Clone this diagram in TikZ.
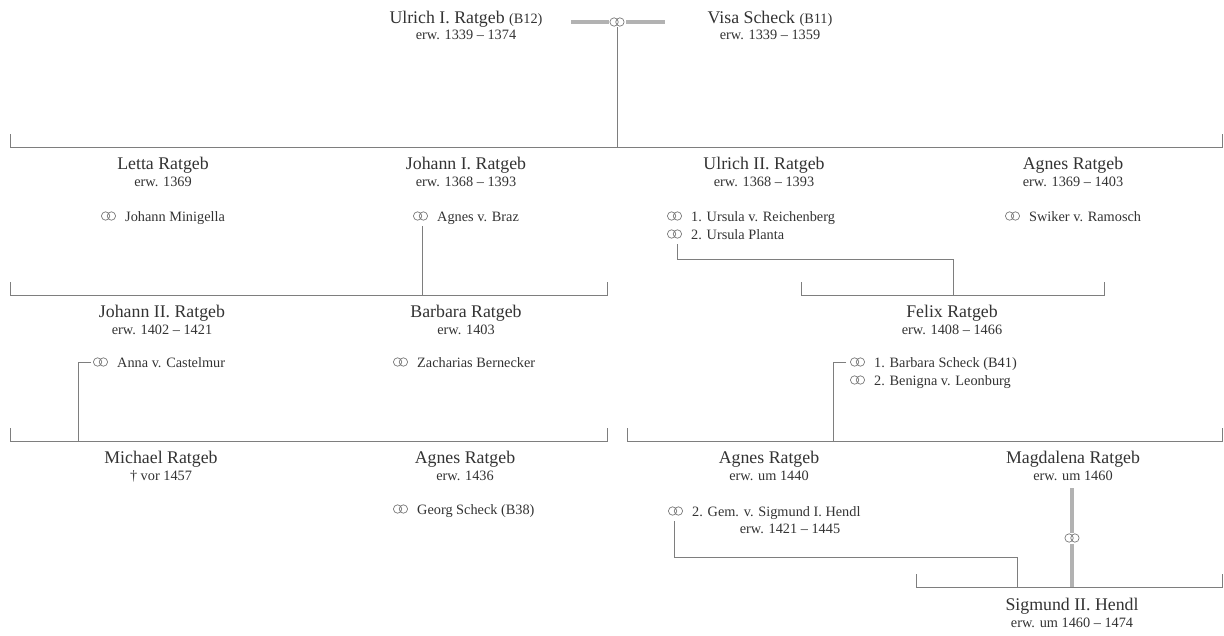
\documentclass[tikz,border=0pt]{standalone}
\usepackage{fontspec}
\setmainfont{Liberation Serif}
\definecolor{txtc}{HTML}{333333}
\definecolor{linec}{HTML}{7E7E7E}
\definecolor{thickc}{HTML}{B2B2B2}
\definecolor{symc}{HTML}{7A7A7A}
\newcommand\namefnt{\fontsize{17.8}{20}\selectfont}
\newcommand\smallfnt{\fontsize{14.3}{18}\selectfont}
\tikzset{
  nm/.style={font=\namefnt, text=txtc, inner sep=0, anchor=base},
  dt/.style={font=\smallfnt, text=txtc, inner sep=0, anchor=base},
  mr/.style={font=\smallfnt, text=txtc, inner sep=0, anchor=base west},
  conn/.style={draw=linec, line width=0.95pt},
  thick line/.style={draw=thickc, line width=3.6pt},
  rings/.pic={
    \draw[draw=symc, line width=0.7pt] (-2.9pt,0) circle[radius=4.2pt] (2.9pt,0) circle[radius=4.2pt];
  },
  ringsw/.pic={
    \fill[white] (-8.5pt,-5.5pt) rectangle (8.5pt,5.5pt);
    \draw[draw=symc, line width=0.7pt] (-2.9pt,0) circle[radius=4.2pt] (2.9pt,0) circle[radius=4.2pt];
  }
}
\begin{document}
\begin{tikzpicture}[x=1pt,y=-1pt]
\useasboundingbox[fill=white] (0,0) rectangle (1224,635);

% ---------- top couple ----------
\node[nm] (ulrich1) at (466,23) {Ulrich I. Ratgeb {\smallfnt (B12)}};
\node[dt] (ulrich1-d) at (466,39) {erw. 1339 – 1374};
\node[nm] (visa) at (770,23) {Visa Scheck {\smallfnt (B11)}};
\node[dt] (visa-d) at (770,39) {erw. 1339 – 1359};
\coordinate (m0L) at (571,22);
\coordinate (m0R) at (665,22);
\coordinate (m0) at (617,22);
\draw[thick line] (m0L) -- (m0R);
\pic (m0s) at (m0) {ringsw};
\coordinate (m0b) at (617,27);
\coordinate (r1top) at (617,147);
\draw[conn] (m0b) -- (r1top);

% row 1 bracket
\coordinate (r1a) at (10,147);
\coordinate (r1b) at (1222,147);
\draw[conn] ([yshift=13pt]r1a) -- (r1a) -- (r1b) -- ([yshift=13pt]r1b);

% ---------- row 1 ----------
\node[nm] (letta) at (163,169) {Letta Ratgeb};
\node[dt] (letta-d) at (163,186) {erw. 1369};
\pic (letta-r) at (108.5,216) {rings};
\node[mr] (letta-m) at (125,221) {Johann Minigella};

\node[nm] (johann1) at (466,169) {Johann I. Ratgeb};
\node[dt] (johann1-d) at (466,186) {erw. 1368 – 1393};
\pic (johann1-r) at (420.5,216) {rings};
\node[mr] (johann1-m) at (437,221) {Agnes v. Braz};

\node[nm] (ulrich2) at (764,169) {Ulrich II. Ratgeb};
\node[dt] (ulrich2-d) at (764,186) {erw. 1368 – 1393};
\pic (ulrich2-r1) at (674.5,216) {rings};
\node[mr] (ulrich2-m1) at (691,221) {1. Ursula v. Reichenberg};
\pic (ulrich2-r2) at (674.5,234) {rings};
\node[mr] (ulrich2-m2) at (691,239) {2. Ursula Planta};

\node[nm] (agnes1) at (1073,169) {Agnes Ratgeb};
\node[dt] (agnes1-d) at (1073,186) {erw. 1369 – 1403};
\pic (agnes1-r) at (1012.5,216) {rings};
\node[mr] (agnes1-m) at (1029,221) {Swiker v. Ramosch};

% connectors row1 -> row2
\coordinate (j1a) at (422,226);
\coordinate (r2la) at (10,295);
\coordinate (r2lb) at (607,295);
\draw[conn] (j1a) -- (j1a |- r2la);
\draw[conn] ([yshift=13pt]r2la) -- (r2la) -- (r2lb) -- ([yshift=13pt]r2lb);

\coordinate (u2a) at (677,244);
\coordinate (u2b) at (953,259);
\coordinate (r2ra) at (801,295);
\coordinate (r2rb) at (1104,295);
\draw[conn] (u2a) |- (u2b) -- (u2b |- r2ra);
\draw[conn] ([yshift=13pt]r2ra) -- (r2ra) -- (r2rb) -- ([yshift=13pt]r2rb);

% ---------- row 2 ----------
\node[nm] (johann2) at (162,317) {Johann II. Ratgeb};
\node[dt] (johann2-d) at (162,334) {erw. 1402 – 1421};
\pic (johann2-r) at (100.5,362) {rings};
\node[mr] (johann2-m) at (117,367) {Anna v. Castelmur};

\node[nm] (barbara) at (466,317) {Barbara Ratgeb};
\node[dt] (barbara-d) at (466,334) {erw. 1403};
\pic (barbara-r) at (400.5,362) {rings};
\node[mr] (barbara-m) at (417,367) {Zacharias Bernecker};

\node[nm] (felix) at (952,317) {Felix Ratgeb};
\node[dt] (felix-d) at (952,334) {erw. 1408 – 1466};
\pic (felix-r1) at (857.5,362) {rings};
\node[mr] (felix-m1) at (874,367) {1. Barbara Scheck (B41)};
\pic (felix-r2) at (857.5,380) {rings};
\node[mr] (felix-m2) at (874,385) {2. Benigna v. Leonburg};

% connectors row2 -> row3
\coordinate (j2a) at (91,362);
\coordinate (j2b) at (78,362);
\coordinate (r3la) at (10,441);
\coordinate (r3lb) at (607,441);
\draw[conn] (j2a) -- (j2b) -- (j2b |- r3la);
\draw[conn] ([yshift=13pt]r3la) -- (r3la) -- (r3lb) -- ([yshift=13pt]r3lb);

\coordinate (fa) at (846,362);
\coordinate (fb) at (833,362);
\coordinate (r3ra) at (627,441);
\coordinate (r3rb) at (1222,441);
\draw[conn] (fa) -- (fb) -- (fb |- r3ra);
\draw[conn] ([yshift=13pt]r3ra) -- (r3ra) -- (r3rb) -- ([yshift=13pt]r3rb);

% ---------- row 3 ----------
\node[nm] (michael) at (161,463) {Michael Ratgeb};
\node[dt] (michael-d) at (161,480) {† vor 1457};

\node[nm] (agnes2) at (465,463) {Agnes Ratgeb};
\node[dt] (agnes2-d) at (465,480) {erw. 1436};
\pic (agnes2-r) at (400.5,509) {rings};
\node[mr] (agnes2-m) at (417,514) {Georg Scheck (B38)};

\node[nm] (agnes3) at (769,463) {Agnes Ratgeb};
\node[dt] (agnes3-d) at (769,480) {erw. um 1440};
\pic (agnes3-r) at (675.5,511) {rings};
\node[mr] (agnes3-m) at (692,516) {2. Gem. v. Sigmund I. Hendl};
\node[dt] (hendl1-d) at (790,533) {erw. 1421 – 1445};

\node[nm] (magda) at (1073,463) {Magdalena Ratgeb};
\node[dt] (magda-d) at (1073,480) {erw. um 1460};

% connectors row3 -> row4
\coordinate (a3a) at (674,521);
\coordinate (a3b) at (1017,557);
\coordinate (r4a) at (916,587);
\coordinate (r4b) at (1222,587);
\draw[conn] (a3a) |- (a3b) -- (a3b |- r4a);
\coordinate (mgtop) at (1072,488);
\coordinate (mgbot) at (1072,587);
\draw[thick line] (mgtop) -- (mgbot);
\pic (mgs) at (1072,538) {ringsw};
\draw[conn] ([yshift=13pt]r4a) -- (r4a) -- (r4b) -- ([yshift=13pt]r4b);

% ---------- row 4 ----------
\node[nm] (sigmund) at (1072,610) {Sigmund II. Hendl};
\node[dt] (sigmund-d) at (1072,627) {erw. um 1460 – 1474};
\end{tikzpicture}
\end{document}
